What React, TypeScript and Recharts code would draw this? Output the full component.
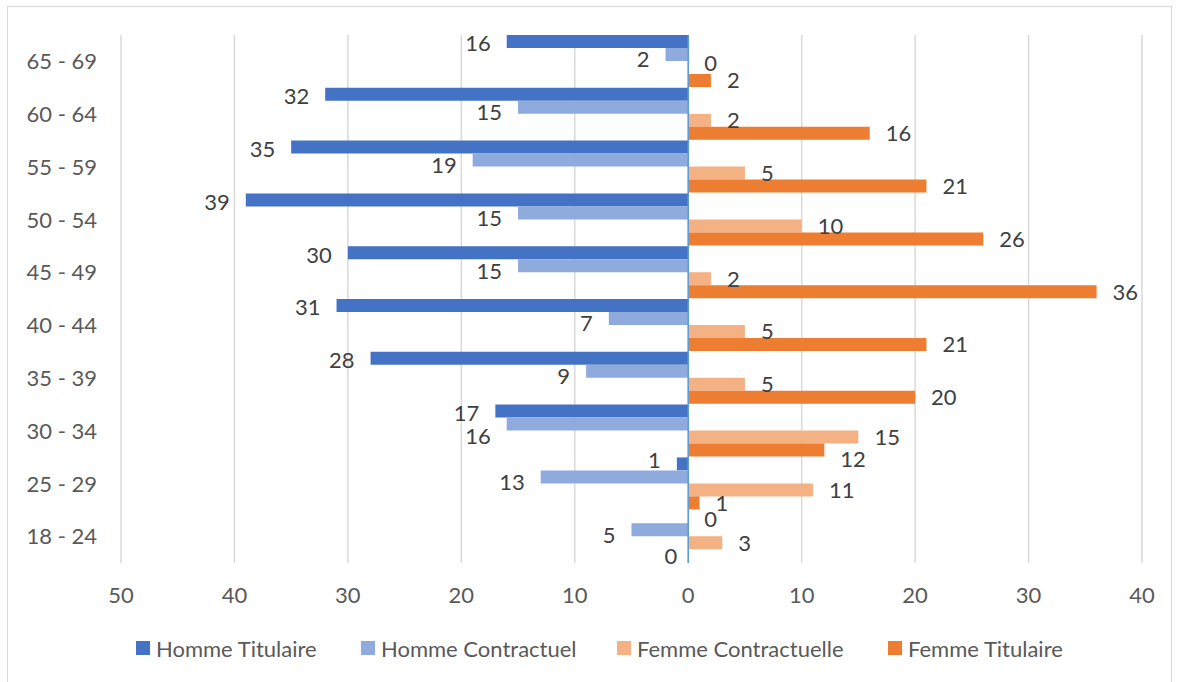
import React from 'react';
import {
  BarChart,
  Bar,
  XAxis,
  YAxis,
  CartesianGrid,
  Legend,
  ReferenceLine,
  LabelList,
} from 'recharts';

const ageGroups = ['18 - 24', '25 - 29', '30 - 34', '35 - 39', '40 - 44', '45 - 49', '50 - 54', '55 - 59', '60 - 64', '65 - 69'];
const hommeTitulaire = [0, 1, 17, 28, 31, 30, 39, 35, 32, 16];
const hommeContractuel = [5, 13, 16, 9, 7, 15, 15, 19, 15, 2];
const femmeContractuelle = [3, 11, 15, 5, 5, 2, 10, 5, 2, 0];
const femmeTitulaire = [0, 1, 12, 20, 21, 36, 26, 21, 16, 2];
const xTicks = [-50, -40, -30, -20, -10, 0, 10, 20, 30, 40];

// side = where labels sit, zeroSide = where a "0" label goes
const series = [
  { key: 'ht', name: 'Homme Titulaire', color: '#4472c4', side: 'left', zeroSide: 'right', dy: 2 },
  { key: 'hc', name: 'Homme Contractuel', color: '#8faadc', side: 'left', zeroSide: 'right', dy: 5 },
  { key: 'fc', name: 'Femme Contractuelle', color: '#f4b183', side: 'right', zeroSide: 'right', dy: 0 },
  { key: 'ft', name: 'Femme Titulaire', color: '#ed7d31', side: 'right', zeroSide: 'left', dy: 0 },
];

// a few labels are nudged vertically so they don't collide
const labelNudge: Record<string, number> = {
  'ht-1': -6,
  'hc-2': 7,
  'ft-2': 9,
  'fc-9': -4,
};

// men go to the left of the axis, women to the right
const data = ageGroups.map((age, i) => ({
  age,
  ht: -hommeTitulaire[i],
  hc: -hommeContractuel[i],
  fc: femmeContractuelle[i],
  ft: femmeTitulaire[i],
}));

const FONT = "Lato, 'Open Sans', sans-serif";

const makeLabel = (s: (typeof series)[number]) => (props: any) => {
  const x = Number(props.x);
  const w = Number(props.width) || 0;
  const v = Math.abs(Number(props.value));
  const nudge = labelNudge[`${s.key}-${props.index}`] || 0;
  const cy = Number(props.y) + Number(props.height) / 2 + s.dy + nudge;
  const lo = Math.min(x, x + w);
  const hi = Math.max(x, x + w);
  const side = v === 0 ? s.zeroSide : s.side;
  const toLeft = side === 'left';
  return (
    <text
      x={toLeft ? lo - (v === 0 ? 11 : 16) : hi + 16}
      y={cy}
      dy="0.36em"
      textAnchor={toLeft ? 'end' : 'start'}
      fill="#404040"
      fontSize={22}
    >
      {v}
    </text>
  );
};

const legendWidths = [225, 256, 271, 200];

const renderLegend = () => (
  <div style={{ display: 'flex', alignItems: 'center', height: 40, paddingLeft: 136 }}>
    {series.map((s, i) => (
      <div key={s.key} style={{ display: 'flex', alignItems: 'center', width: legendWidths[i] }}>
        <span style={{ width: 14, height: 14, background: s.color, marginRight: 6 }} />
        <span style={{ color: '#595959', fontSize: 22, whiteSpace: 'nowrap' }}>{s.name}</span>
      </div>
    ))}
  </div>
);

export default function App() {
  return (
    <div style={{ position: 'absolute', left: 0, top: 0, width: 1178, height: 682, fontFamily: FONT, background: '#fff' }}>
      <div
        style={{
          position: 'absolute',
          left: 7,
          top: 6,
          width: 1163,
          height: 690,
          border: '1px solid #d9d9d9',
        }}
      />
      <BarChart
        width={1178}
        height={682}
        data={data}
        layout="vertical"
        barCategoryGap={0}
        barGap={0}
        margin={{ top: 35, right: 36, bottom: 14, left: 0 }}
      >
        <CartesianGrid horizontal={false} stroke="#d9d9d9" strokeWidth={1.5} />
        <XAxis
          type="number"
          domain={[-50, 40]}
          ticks={xTicks}
          tickFormatter={(v: number) => String(Math.abs(v))}
          axisLine={false}
          tickLine={false}
          tickMargin={18}
          height={65}
          interval={0}
          tick={{ fill: '#595959', fontSize: 22 }}
        />
        <YAxis
          type="category"
          dataKey="age"
          reversed
          width={121}
          axisLine={false}
          tickLine={false}
          tickMargin={18}
          interval={0}
          tick={{ fill: '#595959', fontSize: 22 }}
        />
        {series.map((s) => (
          <Bar
            key={s.key}
            dataKey={s.key}
            name={s.name}
            fill={s.color}
            minPointSize={0.01}
            isAnimationActive={false}
          >
            <LabelList dataKey={s.key} content={makeLabel(s)} />
          </Bar>
        ))}
        <ReferenceLine x={0} stroke="#5b9bd5" strokeWidth={1.5} />
        <Legend
          verticalAlign="bottom"
          content={renderLegend}
          wrapperStyle={{ left: 0, width: 1178, height: 40 }}
        />
      </BarChart>
    </div>
  );
}
